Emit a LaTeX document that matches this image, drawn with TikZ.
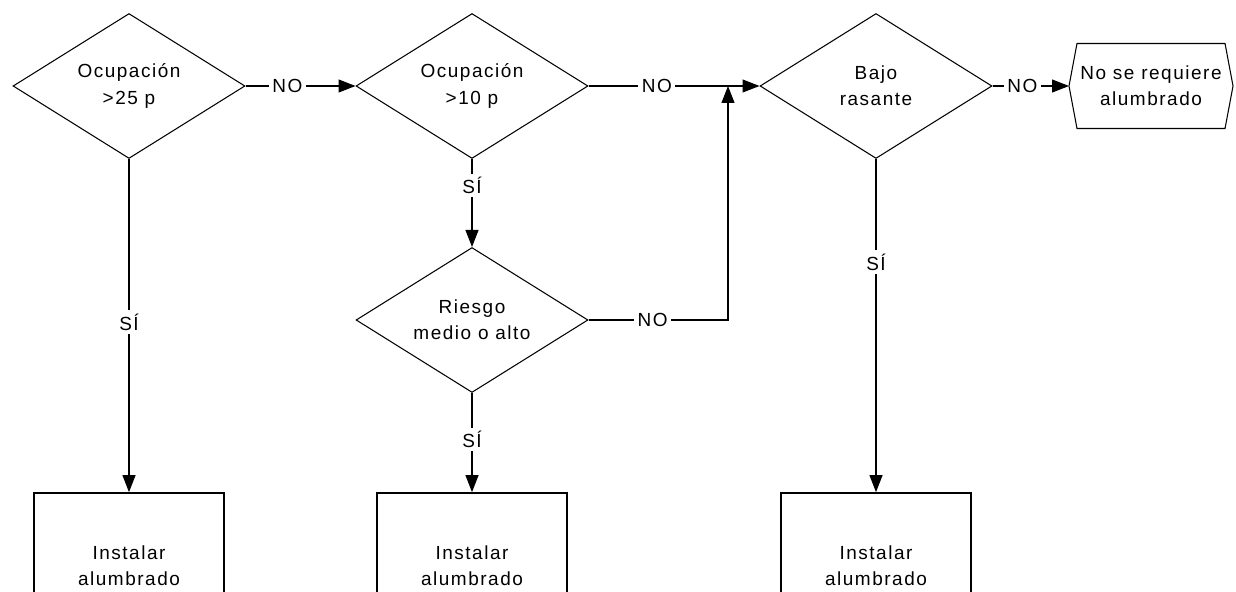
\documentclass[tikz,border=0pt]{standalone}
\usepackage{fontspec}
\setmainfont[LetterSpace=8]{Liberation Sans}
\usetikzlibrary{shapes.geometric,arrows.meta}

\begin{document}
\begin{tikzpicture}[x=0.02cm,y=-0.02cm,line width=0.6pt,
		font=\fontsize{10.8}{15}\selectfont,
		decision/.style={diamond,draw,shape aspect=1.6,inner sep=0pt,minimum width=4.64cm,minimum height=2.9cm,align=center},
		caja/.style={rectangle,draw,line width=1pt,minimum width=3.8cm,minimum height=2.92cm,align=center},
		flecha/.style={-{Triangle[length=0.34cm,width=0.26cm]}},
		etiq/.style={fill=white,inner sep=2pt}]
			\useasboundingbox (0,0) rectangle (1236,591);
			\clip (0,0) rectangle (1236,591);
			\node[decision] (ocup25) at (129,86) {Ocupación\\>25 p};
			\node[decision] (ocup10) at (472,86) {Ocupación\\>10 p};
			\node[decision] (rasante) at (876,86) {Bajo\\rasante};
			\node[decision] (riesgo) at (472,320) {Riesgo\\medio o alto};
			\node[inner sep=0pt,minimum width=3.26cm,minimum height=1.68cm,align=center] (nore) at (1151,86) {No se requiere\\alumbrado};
			\draw (nore.west) -- ([xshift=0.16cm]nore.north west) -- ([xshift=-0.16cm]nore.north east) -- (nore.east)
				-- ([xshift=-0.16cm]nore.south east) -- ([xshift=0.16cm]nore.south west) -- cycle;
			\node[caja] (inst1) at (129,566) {Instalar\\alumbrado};
			\node[caja] (inst2) at (472,566) {Instalar\\alumbrado};
			\node[caja] (inst3) at (876,566) {Instalar\\alumbrado};
			\coordinate (union) at (728,86);
			\draw[flecha] (ocup25) -- node[etiq,pos=0.38] {NO} (ocup10);
			\draw[flecha] (ocup10) -- node[etiq,pos=0.40] {NO} (rasante);
			\draw[flecha] (rasante) -- node[etiq,pos=0.39] {NO} (nore);
			\draw[flecha] (riesgo) -- node[etiq,pos=0.46] {NO} (riesgo -| union) -- (union);
			\draw[flecha] (ocup25) -- node[etiq,pos=0.49] {SÍ} (inst1);
			\draw[flecha] (ocup10) -- node[etiq,pos=0.30] {SÍ} (riesgo);
			\draw[flecha] (riesgo) -- node[etiq,pos=0.47] {SÍ} (inst2);
			\draw[flecha] (rasante) -- node[etiq,pos=0.31] {SÍ} (inst3);
		\end{tikzpicture}
\end{document}
